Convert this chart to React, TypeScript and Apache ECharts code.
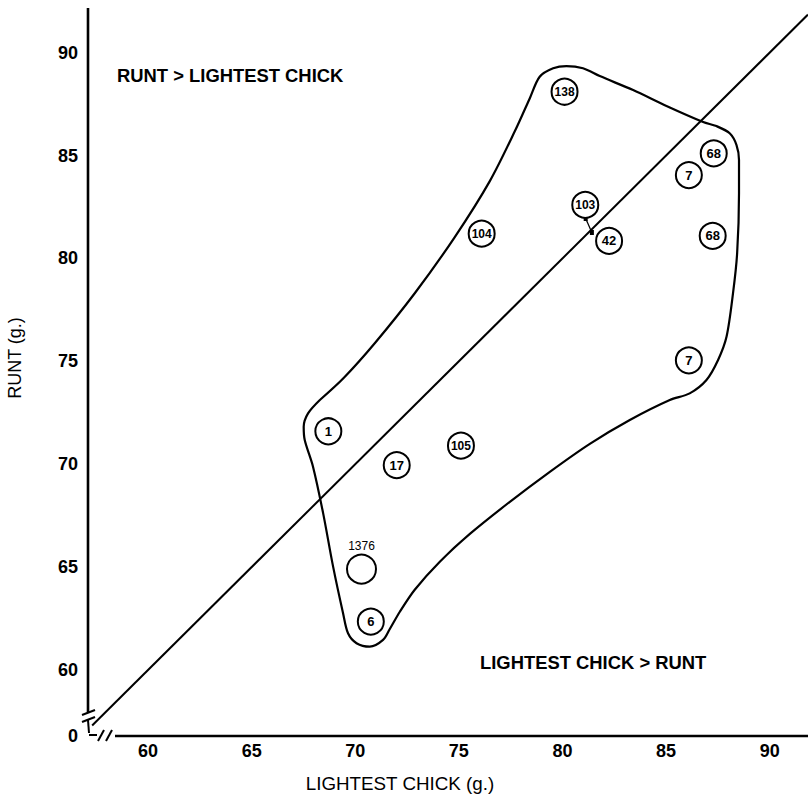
import React, { useEffect, useRef } from "react";
import * as echarts from "echarts";

// Nest identifiers and weights (g.)
const nestIds = ["138", "68", "7", "103", "104", "42", "68", "7", "1", "17", "105", "1376", "6"];
const lightestChick = [80.1, 87.3, 86.1, 81.1, 76.1, 82.25, 87.25, 86.1, 68.7, 72.0, 75.1, 70.3, 70.75];
const runt = [88.1, 85.1, 84.05, 82.6, 81.2, 80.85, 81.1, 75.05, 71.6, 69.95, 70.9, 64.9, 62.35];

// Tick labels
const xTicks = [60, 65, 70, 75, 80, 85, 90];
const yTicks = [60, 65, 70, 75, 80, 85, 90];

// Equality line (runt = lightest chick)
const equalityLine = [57.3, 91.85];

// Pointer from nest 103 towards the line
const pointerX = [81.12, 81.42];
const pointerY = [81.94, 81.26];

// Enclosing outline
const hullX = [
  68.29, 69.45, 70.95, 72.88, 74.81, 76.5, 77.71, 78.43, 78.9, 79.55, 80.19, 80.99, 81.8, 83.41,
  85.02, 86.79, 87.43, 88.07, 88.4, 88.52, 88.52, 88.43, 88.23, 87.92, 87.51, 86.95, 86.14, 85.18,
  83.25, 81.32, 79.39, 77.46, 75.53, 74.08, 72.87, 72.15, 71.66, 71.34, 70.7, 70.06, 69.65, 69.41,
  68.93, 68.45, 67.96, 67.56, 67.51, 67.72, 68.29,
];
const hullY = [
  73.12, 74.2, 75.89, 78.32, 81.05, 83.77, 86.2, 87.8, 88.83, 89.24, 89.35, 89.24, 88.86, 88.18,
  87.41, 86.63, 86.43, 86.08, 85.51, 84.78, 83.16, 80.25, 78.3, 76.2, 75.06, 74.09, 73.44, 73.12,
  72.15, 70.99, 69.63, 68.17, 66.61, 65.26, 63.9, 62.83, 61.98, 61.46, 61.13, 61.3, 61.78, 62.76,
  65.02, 67.61, 69.88, 71.18, 71.82, 72.47, 73.12,
];

const FONT = "'Liberation Sans', Arial, Helvetica, sans-serif";

export default function App() {
  const ref = useRef<HTMLDivElement>(null);

  useEffect(() => {
    document.body.style.margin = "0";
    if (!ref.current) return;
    const chart = echarts.init(ref.current, null, { renderer: "svg" });

    const black = "#000";

    const points = nestIds.map((id, i) => {
      const isBig = id === "1376";
      return {
        value: [lightestChick[i], runt[i]],
        name: id,
        symbolSize: isBig ? 29 : 26,
        label: isBig
          ? {
              position: "top",
              distance: 2,
              fontSize: 12,
              fontWeight: "normal",
              color: black,
              opacity: 1,
              textBorderWidth: 0,
            }
          : {
              position: "inside",
              fontSize: id.length >= 3 ? 12 : 13,
              fontWeight: "bold",
              color: black,
              opacity: 1,
              textBorderWidth: 0,
            },
      };
    });

    chart.setOption({
      animation: false,
      backgroundColor: "#fff",
      grid: { left: 88, right: 0, top: 8, bottom: 71, containLabel: false },
      xAxis: {
        type: "value",
        min: 57.1,
        max: 91.85,
        axisLine: { show: false },
        axisTick: { show: false },
        splitLine: { show: false },
        axisLabel: {
          customValues: xTicks,
          margin: 6,
          fontSize: 18,
          fontWeight: "bold",
          color: black,
          fontFamily: FONT,
        },
      },
      yAxis: {
        type: "value",
        min: 56.79,
        max: 92.17,
        axisLine: { show: false },
        axisTick: { show: false },
        splitLine: { show: false },
        axisLabel: {
          customValues: yTicks,
          margin: 10,
          fontSize: 18,
          fontWeight: "bold",
          color: black,
          fontFamily: FONT,
        },
      },
      series: [
        {
          type: "line",
          name: "outline",
          data: hullX.map((x, i) => [x, hullY[i]]),
          smooth: 0.3,
          symbol: "none",
          lineStyle: { color: black, width: 2.2 },
          z: 1,
          silent: true,
        },
        {
          type: "line",
          name: "equality",
          data: equalityLine.map((v) => [v, v]),
          symbol: "none",
          lineStyle: { color: black, width: 2 },
          clip: false,
          z: 1,
          silent: true,
        },
        {
          type: "line",
          name: "pointer",
          data: pointerX.map((x, i) => [x, pointerY[i]]),
          symbol: ["none", "arrow"],
          symbolSize: [4, 5],
          showSymbol: true,
          itemStyle: { color: black, opacity: 1 },
          lineStyle: { color: black, width: 1.3 },
          z: 2,
          silent: true,
        },
        {
          type: "scatter",
          name: "nests",
          data: points,
          symbol: "circle",
          itemStyle: { color: "#fff", borderColor: black, borderWidth: 2, opacity: 1 },
          label: {
            show: true,
            formatter: (p: any) => p.name,
            color: black,
            opacity: 1,
            fontFamily: FONT,
            fontWeight: "bold",
            textBorderWidth: 0,
          },
          z: 3,
        },
      ],
      graphic: [
        // y axis with break
        { type: "line", shape: { x1: 88, y1: 8, x2: 88, y2: 712 }, style: { stroke: black, lineWidth: 2.6 } },
        { type: "line", shape: { x1: 82, y1: 715, x2: 95, y2: 710 }, style: { stroke: black, lineWidth: 2 } },
        { type: "line", shape: { x1: 82, y1: 722, x2: 95, y2: 717 }, style: { stroke: black, lineWidth: 2 } },
        { type: "line", shape: { x1: 88, y1: 720, x2: 89, y2: 733 }, style: { stroke: black, lineWidth: 2 } },
        // x axis with break
        { type: "line", shape: { x1: 115, y1: 736, x2: 808, y2: 736 }, style: { stroke: black, lineWidth: 2.6 } },
        { type: "line", shape: { x1: 89, y1: 735, x2: 97, y2: 735 }, style: { stroke: black, lineWidth: 2 } },
        { type: "line", shape: { x1: 98, y1: 741, x2: 104, y2: 730 }, style: { stroke: black, lineWidth: 2 } },
        { type: "line", shape: { x1: 106, y1: 741, x2: 112, y2: 730 }, style: { stroke: black, lineWidth: 2 } },
        {
          type: "text",
          x: 78,
          y: 736,
          style: { text: "0", fontSize: 18, fontWeight: "bold", fill: black, align: "right", verticalAlign: "middle", fontFamily: FONT },
        },
        {
          type: "text",
          x: 117,
          y: 75,
          style: { text: "RUNT > LIGHTEST CHICK", fontSize: 18.4, fontWeight: "bold", fill: black, align: "left", verticalAlign: "middle", fontFamily: FONT },
        },
        {
          type: "text",
          x: 480,
          y: 662,
          style: { text: "LIGHTEST CHICK > RUNT", fontSize: 18.4, fontWeight: "bold", fill: black, align: "left", verticalAlign: "middle", fontFamily: FONT },
        },
        {
          type: "text",
          x: 400,
          y: 783,
          style: { text: "LIGHTEST CHICK (g.)", fontSize: 18.8, fill: black, align: "center", verticalAlign: "middle", fontFamily: FONT },
        },
        {
          type: "text",
          x: 15,
          y: 358,
          rotation: Math.PI / 2,
          style: { text: "RUNT (g.)", fontSize: 18, fill: black, align: "center", verticalAlign: "middle", fontFamily: FONT },
        },
      ],
    });

    return () => chart.dispose();
  }, []);

  return <div ref={ref} style={{ width: 808, height: 807 }} />;
}
